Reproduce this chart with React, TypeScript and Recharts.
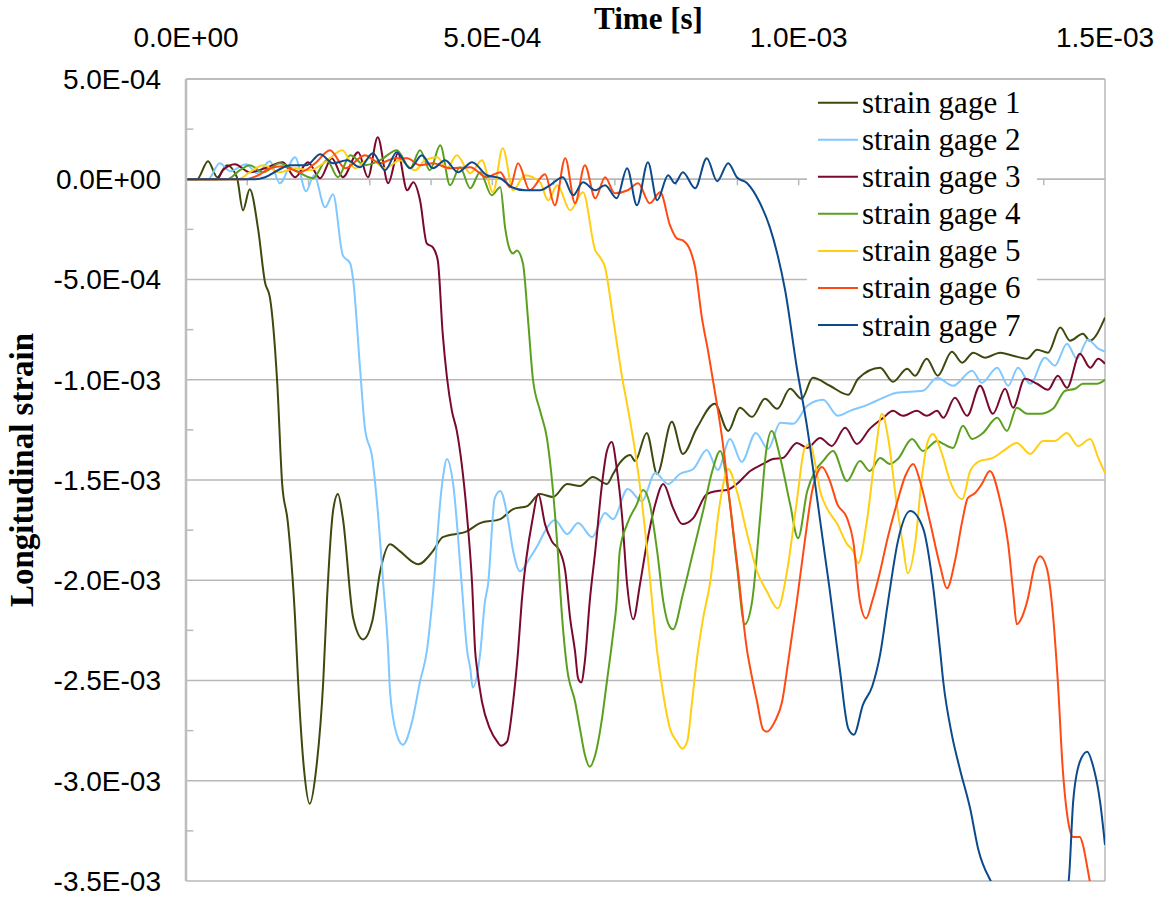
import React from 'react';
import { LineChart, Line, XAxis, YAxis, ReferenceLine, Legend, CartesianGrid } from 'recharts';

// time in microseconds, strain in microstrain
const timeTicks = [0, 500, 1000, 1500];
const strainTicks = [500, 0, -500, -1000, -1500, -2000, -2500, -3000, -3500];
const minorTimeTicks = [100, 200, 300, 400, 500, 600, 700, 800, 900, 1000, 1100, 1200, 1300, 1400];
const minorStrainTicks = [250, -250, -750, -1250, -1750, -2250, -2750, -3250];

const seriesNames = ['strain gage 1', 'strain gage 2', 'strain gage 3', 'strain gage 4', 'strain gage 5', 'strain gage 6', 'strain gage 7'];
const seriesColors = ['#3c4a0e', '#80c8ff', '#7a0a2c', '#5aa01e', '#ffcf14', '#ff4a12', '#0d4a8c'];

const gage1: [number, number][] = [
  [0, 0], [18, 0], [36, 90], [51, 10], [67, 70], [83, 10], [93, -155], [104, -50], [118, -255], [129, -515], [137, -590],
  [149, -1020], [157, -1520], [166, -1705], [178, -2190], [183, -2505], [193, -2955], [202, -3115], [212, -2955], [224, -2505],
  [230, -2105], [240, -1655], [248, -1570], [256, -1690], [273, -2190], [289, -2295], [304, -2205], [317, -1955], [333, -1820],
  [349, -1855], [379, -1920], [403, -1855], [419, -1785], [459, -1755], [480, -1715], [513, -1695], [534, -1645], [557, -1630],
  [578, -1570], [599, -1585], [622, -1520], [643, -1530], [664, -1485], [687, -1520], [697, -1470], [708, -1415], [725, -1375],
  [733, -1405], [752, -1265], [769, -1470], [793, -1210], [811, -1370], [834, -1240], [863, -1120], [885, -1255], [904, -1140],
  [924, -1185], [945, -1095], [965, -1145], [986, -1045], [1005, -1095], [1023, -990], [1051, -1030], [1081, -1075], [1097, -995],
  [1133, -940], [1154, -1010], [1177, -945], [1190, -980], [1209, -895], [1227, -980], [1250, -860], [1267, -915], [1285, -865],
  [1304, -890], [1329, -865], [1350, -880], [1373, -895], [1389, -850], [1407, -865], [1427, -740], [1443, -805], [1464, -770],
  [1475, -805], [1500, -690],
];

const gage2: [number, number][] = [
  [0, 0], [36, 0], [55, 80], [72, 40], [98, 75], [116, 30], [137, 90], [153, -20], [178, 110], [196, -60], [209, 20], [227, -140],
  [240, -75], [256, -380], [268, -420], [273, -505], [284, -940], [292, -1240], [304, -1390], [312, -1620], [322, -2020],
  [330, -2355], [333, -2555], [344, -2770], [354, -2820], [369, -2705], [382, -2505], [393, -2355], [402, -2105], [418, -1520],
  [426, -1395], [436, -1520], [450, -2020], [459, -2355], [464, -2440], [468, -2535], [480, -2370], [488, -2105], [493, -2020],
  [504, -1590], [513, -1555], [524, -1670], [534, -1855], [545, -1955], [561, -1890], [575, -1820], [586, -1755], [602, -1700],
  [622, -1770], [640, -1715], [663, -1785], [684, -1665], [697, -1695], [721, -1545], [744, -1605], [766, -1465], [787, -1520],
  [806, -1470], [828, -1445], [850, -1350], [868, -1450], [888, -1295], [907, -1410], [930, -1265], [950, -1345], [970, -1215],
  [991, -1220], [1014, -1130], [1040, -1100], [1064, -1180], [1084, -1155], [1112, -1125], [1138, -1090], [1160, -1065],
  [1203, -1055], [1226, -990], [1252, -1030], [1283, -955], [1299, -1015], [1324, -940], [1342, -1030], [1358, -940],
  [1378, -1020], [1402, -890], [1418, -930], [1438, -820], [1454, -895], [1472, -800], [1489, -845], [1500, -860],
];

const gage3: [number, number][] = [
  [0, 0], [51, 0], [60, 45], [80, 75], [104, 35], [129, 55], [158, 85], [178, 10], [199, 85], [219, 5], [238, 105], [256, 10],
  [281, 135], [297, 10], [313, 210], [330, -20], [346, 130], [361, -55], [371, -15], [382, -105], [393, -320], [403, -340],
  [411, -405], [419, -770], [426, -990], [434, -1155], [442, -1255], [450, -1420], [459, -1690], [467, -2020], [472, -2355],
  [475, -2440], [483, -2605], [496, -2740], [508, -2805], [514, -2825], [524, -2805], [534, -2605], [542, -2355], [548, -2105],
  [566, -1690], [575, -1570], [586, -1720], [597, -1805], [610, -1855], [619, -1955], [627, -2190], [635, -2355], [640, -2490],
  [645, -2510], [651, -2405], [659, -2105], [668, -1855], [679, -1520], [687, -1355], [695, -1310], [703, -1440], [712, -1690],
  [720, -2020], [730, -2195], [741, -2020], [752, -1820], [766, -1620], [779, -1520], [795, -1640], [810, -1720], [828, -1690],
  [850, -1570], [867, -1555], [883, -1550], [899, -1520], [921, -1455], [942, -1420], [958, -1395], [974, -1390], [997, -1315],
  [1014, -1340], [1035, -1290], [1054, -1330], [1076, -1240], [1095, -1320], [1116, -1245], [1138, -1190], [1154, -1155],
  [1170, -1180], [1193, -1155], [1209, -1180], [1226, -1155], [1236, -1190], [1255, -1090], [1275, -1180], [1296, -1030],
  [1317, -1170], [1337, -1045], [1350, -1140], [1369, -995], [1389, -1020], [1407, -1050], [1423, -980], [1438, -1040],
  [1459, -870], [1476, -940], [1489, -895], [1500, -920],
];

const gage4: [number, number][] = [
  [0, 0], [67, 0], [88, 45], [104, 70], [126, 35], [153, 80], [178, 45], [207, 5], [230, 95], [248, 10], [268, 120], [292, 70],
  [317, 95], [344, 145], [366, 55], [382, 145], [398, 45], [415, 170], [431, -30], [447, 60], [464, -45], [480, 35], [499, -80],
  [513, -40], [521, -245], [529, -355], [534, -370], [540, -355], [550, -420], [558, -690], [566, -990], [578, -1155],
  [589, -1290], [597, -1490], [606, -1820], [614, -2190], [622, -2440], [635, -2605], [643, -2740], [651, -2870], [659, -2930],
  [668, -2870], [679, -2690], [687, -2505], [697, -2270], [703, -2105], [708, -1855], [720, -1720], [736, -1620], [746, -1550],
  [757, -1620], [769, -1855], [779, -2105], [787, -2215], [795, -2245], [811, -2070], [828, -1855], [844, -1655], [859, -1455],
  [872, -1355], [885, -1555], [899, -1920], [912, -2220], [924, -2105], [937, -1690], [947, -1355], [956, -1255], [970, -1390],
  [986, -1620], [999, -1790], [1014, -1555], [1027, -1455], [1040, -1405], [1056, -1355], [1079, -1505], [1100, -1405],
  [1116, -1455], [1133, -1390], [1149, -1420], [1162, -1395], [1185, -1295], [1203, -1355], [1226, -1305], [1236, -1320],
  [1252, -1340], [1268, -1230], [1283, -1295], [1301, -1265], [1324, -1190], [1340, -1255], [1356, -1140], [1373, -1170],
  [1394, -1170], [1415, -1145], [1435, -1055], [1451, -1045], [1464, -1020], [1487, -1020], [1500, -1000],
];

const gage5: [number, number][] = [
  [0, 0], [85, 0], [104, 35], [126, 70], [153, 35], [178, 55], [202, 45], [227, 85], [255, 145], [276, 55], [300, 105],
  [325, 55], [349, 95], [374, 45], [390, 95], [410, 110], [426, 55], [442, 120], [464, 30], [483, 95], [501, -65], [517, 155],
  [534, -55], [553, 20], [578, -15], [591, -105], [606, -30], [627, -155], [648, -65], [668, -355], [676, -390], [684, -440],
  [697, -690], [712, -990], [721, -1140], [733, -1355], [744, -1605], [754, -1890], [769, -2355], [779, -2570], [790, -2740],
  [801, -2805], [810, -2840], [818, -2805], [826, -2605], [834, -2390], [844, -2190], [855, -2020], [872, -1605], [885, -1445],
  [899, -1555], [916, -1770], [932, -1955], [948, -2055], [966, -2140], [981, -1955], [997, -1605], [1010, -1340], [1019, -1320],
  [1027, -1420], [1035, -1555], [1046, -1640], [1063, -1720], [1079, -1820], [1089, -1855], [1097, -1915], [1112, -1690],
  [1125, -1370], [1136, -1170], [1146, -1290], [1160, -1620], [1170, -1820], [1178, -1965], [1190, -1820], [1201, -1490],
  [1211, -1305], [1219, -1270], [1234, -1370], [1247, -1505], [1267, -1595], [1280, -1455], [1296, -1405], [1317, -1390],
  [1334, -1355], [1356, -1315], [1378, -1370], [1399, -1305], [1418, -1305], [1438, -1265], [1456, -1330], [1476, -1295],
  [1489, -1390], [1500, -1465],
];

const gage6: [number, number][] = [
  [0, 0], [96, 0], [118, 20], [137, 55], [158, 65], [186, 35], [211, 80], [235, 145], [260, 55], [292, 120], [317, 80],
  [341, 105], [361, 105], [382, 70], [403, 80], [431, 55], [464, 60], [491, 10], [513, 35], [529, -40], [542, 80], [561, -55],
  [586, 25], [602, -130], [619, 105], [635, -120], [651, 70], [668, -95], [684, 10], [700, -70], [721, -55], [738, -20],
  [757, -120], [774, -65], [790, -230], [801, -295], [811, -305], [823, -355], [831, -440], [842, -690], [852, -855],
  [863, -1055], [875, -1290], [888, -1620], [901, -1955], [916, -2355], [921, -2440], [932, -2605], [942, -2745], [948, -2755],
  [961, -2705], [973, -2605], [983, -2405], [997, -2105], [1010, -1805], [1022, -1555], [1032, -1455], [1038, -1435],
  [1051, -1505], [1063, -1620], [1079, -1690], [1089, -1805], [1100, -2105], [1110, -2190], [1120, -2105], [1133, -1955],
  [1144, -1805], [1160, -1620], [1174, -1480], [1187, -1420], [1198, -1505], [1214, -1705], [1231, -1930], [1242, -2040],
  [1255, -1905], [1267, -1705], [1276, -1590], [1288, -1565], [1299, -1520], [1312, -1455], [1329, -1605], [1342, -1820],
  [1350, -2055], [1356, -2220], [1365, -2180], [1373, -2105], [1386, -1920], [1394, -1880], [1405, -1940], [1413, -2105],
  [1423, -2505], [1431, -2940], [1440, -3205], [1448, -3280], [1459, -3280], [1464, -3320], [1471, -3430], [1476, -3515],
  [1500, -4050],
];

const gage7: [number, number][] = [
  [0, 0], [113, 0], [129, 10], [150, 45], [170, 70], [197, 70], [219, 125], [240, 80], [263, 95], [284, 60], [305, 130],
  [325, 45], [344, 135], [366, 55], [385, 120], [403, 55], [423, 95], [444, 35], [467, 85], [491, 20], [513, 5], [532, -40],
  [553, -55], [578, -55], [594, -30], [615, 10], [632, -80], [648, -15], [668, -55], [684, -30], [703, -95], [720, 55],
  [736, -130], [754, 85], [769, -105], [787, 20], [798, -20], [811, 35], [831, -45], [850, 105], [867, -10], [885, 80],
  [899, 10], [916, -20], [937, -120], [953, -240], [965, -370], [978, -555], [997, -940], [1014, -1240], [1030, -1590],
  [1043, -1880], [1051, -2055], [1067, -2440], [1081, -2740], [1090, -2770], [1105, -2620], [1120, -2530], [1133, -2370],
  [1146, -2105], [1162, -1805], [1182, -1655], [1203, -1740], [1219, -2020], [1231, -2355], [1236, -2505], [1250, -2770],
  [1263, -2940], [1280, -3140], [1293, -3340], [1316, -3515], [1345, -3655], [1378, -3705], [1410, -3655], [1440, -3515],
  [1448, -3105], [1459, -2905], [1471, -2855], [1480, -2920], [1492, -3105], [1500, -3320],
];

const allSeries = [gage1, gage2, gage3, gage4, gage5, gage6, gage7];

const toRows = (pts: [number, number][]) => pts.map(([t, s]) => ({ t, s }));

const sci = (v: number) => {
  if (Math.abs(v) < 1e-15) return '0.0E+00';
  const [m, e] = v.toExponential(1).split('e');
  const n = parseInt(e, 10);
  return `${m}E${n < 0 ? '-' : '+'}${String(Math.abs(n)).padStart(2, '0')}`;
};
const fmtMicro = (v: number) => sci(v * 1e-6);

const SANS = "'Liberation Sans', Arial, sans-serif";
const SERIF = "'Liberation Serif', 'Times New Roman', serif";
const AXIS_GREY = '#bdbdbd';
const GRID_GREY = '#b8b8b8';

const renderLegend = () => (
  <svg width={230} height={260}>
    {seriesNames.map((name, i) => {
      const cy = 18.7 + 37.05 * i;
      return (
        <g key={name}>
          <line x1={11} x2={51} y1={cy} y2={cy} stroke={seriesColors[i]} strokeWidth={2} />
          <text x={55} y={cy + 10.5} fontFamily={SERIF} fontSize={31} fill="#000">{name}</text>
        </g>
      );
    })}
  </svg>
);

const XTitle = (props: any) => {
  const vb = props.viewBox || { x: 0, y: 0, width: 0, height: 0 };
  return (
    <text x={vb.x + vb.width / 2 + 3} y={vb.y + 29} textAnchor="middle" fontFamily={SERIF} fontWeight="bold" fontSize={31} fill="#000">
      Time [s]
    </text>
  );
};

const YTitle = (props: any) => {
  const vb = props.viewBox || { x: 0, y: 0, width: 0, height: 0 };
  const cx = vb.x + 33;
  const cy = vb.y + vb.height / 2 - 10;
  return (
    <text x={cx} y={cy} transform={`rotate(-90, ${cx}, ${cy})`} textAnchor="middle" fontFamily={SERIF} fontWeight="bold" fontSize={33} fill="#000">
      Longitudinal strain
    </text>
  );
};

export default function App() {
  return (
    <div style={{ position: 'fixed', left: 0, top: 0, width: 1166, height: 897, background: '#fff' }}>
      <LineChart width={1166} height={897} margin={{ top: 0, right: 61, bottom: 16, left: 0 }}>
        <CartesianGrid horizontal vertical={false} stroke={GRID_GREY} strokeWidth={1.5} />
        <XAxis
          type="number"
          dataKey="t"
          orientation="top"
          domain={[0, 1500]}
          ticks={timeTicks}
          tickFormatter={fmtMicro}
          height={79}
          axisLine={{ stroke: AXIS_GREY, strokeWidth: 2 }}
          tickLine={false}
          tickSize={30}
          tickMargin={2}
          tick={{ fontSize: 28, fill: '#000', fontFamily: SANS }}
          allowDataOverflow
          label={{ content: XTitle }}
        />
        <YAxis
          type="number"
          domain={[-3500, 500]}
          ticks={strainTicks}
          tickFormatter={fmtMicro}
          width={186}
          axisLine={{ stroke: AXIS_GREY, strokeWidth: 2.5 }}
          tickLine={false}
          tickSize={23}
          tickMargin={2}
          tick={{ fontSize: 28, fill: '#000', fontFamily: SANS }}
          allowDataOverflow
          interval={0}
          label={{ content: YTitle }}
        />
        <ReferenceLine x={1500} stroke={GRID_GREY} strokeWidth={1.5} />
        <ReferenceLine y={0} stroke={GRID_GREY} strokeWidth={1.5} />
        {minorTimeTicks.map((t) => (
          <ReferenceLine key={`mt${t}`} segment={[{ x: t, y: 0 }, { x: t, y: -30 }]} stroke={GRID_GREY} strokeWidth={1.5} />
        ))}
        {minorStrainTicks.map((s) => (
          <ReferenceLine key={`ms${s}`} segment={[{ x: 0, y: s }, { x: 12, y: s }]} stroke={GRID_GREY} strokeWidth={1.5} />
        ))}
        {allSeries.map((pts, i) => (
          <Line
            key={seriesNames[i]}
            name={seriesNames[i]}
            data={toRows(pts)}
            dataKey="s"
            type="monotone"
            stroke={seriesColors[i]}
            strokeWidth={2}
            dot={false}
            activeDot={false}
            isAnimationActive={false}
          />
        ))}
        <Legend
          layout="vertical"
          align="center"
          verticalAlign="middle"
          content={renderLegend}
          wrapperStyle={{ left: 807, top: 84, width: 230, height: 260, backgroundColor: '#fff' }}
        />
      </LineChart>
    </div>
  );
}
